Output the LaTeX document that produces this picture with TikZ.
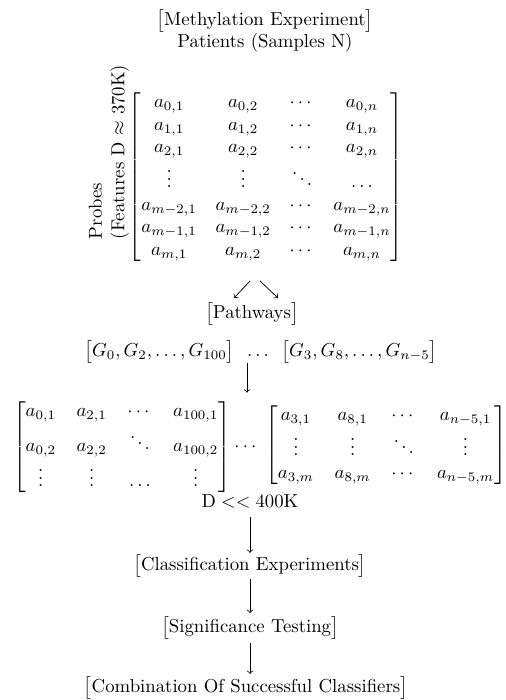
\documentclass[tikz,border=0pt]{standalone}
\usepackage{amsmath}
\begin{document}
\begin{tikzpicture}[x=0.533pt,y=-0.533pt,
  txt/.style={inner sep=0pt, outer sep=0pt},
  arr/.style={->, line width=0.4pt}]
\useasboundingbox (0,0) rectangle (506,700);
\node[txt] (title) at (265,21) {$\bigl[$Methylation Experiment$\bigr]$};
\node[txt] (patients) at (265,43) {Patients (Samples N)};
\node[txt, rotate=90, align=left] (probes) at (109,152) {Probes\\(Features D $\approx$ 370K)};
\node[txt] (mat1) at (266,177) {$\setlength\arraycolsep{5pt}\left[\begin{array}{@{}cccc@{}}
 a_{0,1} & a_{0,2} & \cdots & a_{0,n}\\
 a_{1,1} & a_{1,2} & \cdots & a_{1,n}\\
 a_{2,1} & a_{2,2} & \cdots & a_{2,n}\\
 \vdots & \vdots & \ddots & \ldots\\
 a_{m-2,1} & a_{m-2,2} & \cdots & a_{m-2,n}\\
 a_{m-1,1} & a_{m-1,2} & \cdots & a_{m-1,n}\\
 a_{m,1} & a_{m,2} & \cdots & a_{m,n}
 \end{array}\right]$};
\coordinate (sw1) at (250,281);
\coordinate (sw2) at (234,298);
\coordinate (se1) at (260,281);
\coordinate (se2) at (278,298);
\draw[arr] (sw1) -- (sw2);
\draw[arr] (se1) -- (se2);
\node[txt] (pathways) at (252,314) {$\bigl[$Pathways$\bigr]$};
\node[txt] (glist) at (261,352) {$\bigl[G_0, G_2, \ldots, G_{100}\bigr]\hspace{5pt}\ldots\hspace{5pt}\bigl[G_3, G_8, \ldots, G_{n-5}\bigr]$};
\node[txt] (matL) at (122,447) {$\setlength\arraycolsep{5.5pt}\left[\begin{array}{@{}cccc@{}}
 a_{0,1} & a_{2,1} & \cdots & a_{100,1}\\
 a_{0,2} & a_{2,2} & \ddots & a_{100,2}\\
 \vdots & \vdots & \ldots & \vdots
 \end{array}\right]$};
\node[txt] (dotsM) at (247,447) {$\cdots$};
\node[txt] (matR) at (386,445) {$\setlength\arraycolsep{5.5pt}\left[\begin{array}{@{}cccc@{}}
 a_{3,1} & a_{8,1} & \cdots & a_{n-5,1}\\
 \vdots & \vdots & \ddots & \vdots\\
 a_{3,m} & a_{8,m} & \cdots & a_{n-5,m}
 \end{array}\right]$};
\node[txt] (dlabel) at (250,501) {$\mathrm{D} << 400\mathrm{K}$};
\node[txt] (classif) at (250,566) {$\bigl[$Classification Experiments$\bigr]$};
\node[txt] (signif) at (250,628) {$\bigl[$Significance Testing$\bigr]$};
\node[txt] (combo) at (246,688) {$\bigl[$Combination Of Successful Classifiers$\bigr]$};
\draw[arr, shorten >=4.3pt] (glist.south -| dotsM.center) -- (matL.north -| dotsM.center);
\draw[arr, shorten <=5pt, shorten >=1pt] (dlabel.south) -- (dlabel.south |- classif.north);
\draw[arr, shorten <=1pt, shorten >=2pt] (classif.south -| dlabel.center) -- (signif.north -| dlabel.center);
\draw[arr, shorten <=2pt, shorten >=1.5pt] (signif.south -| dlabel.center) -- (combo.north -| dlabel.center);
\end{tikzpicture}
\end{document}
